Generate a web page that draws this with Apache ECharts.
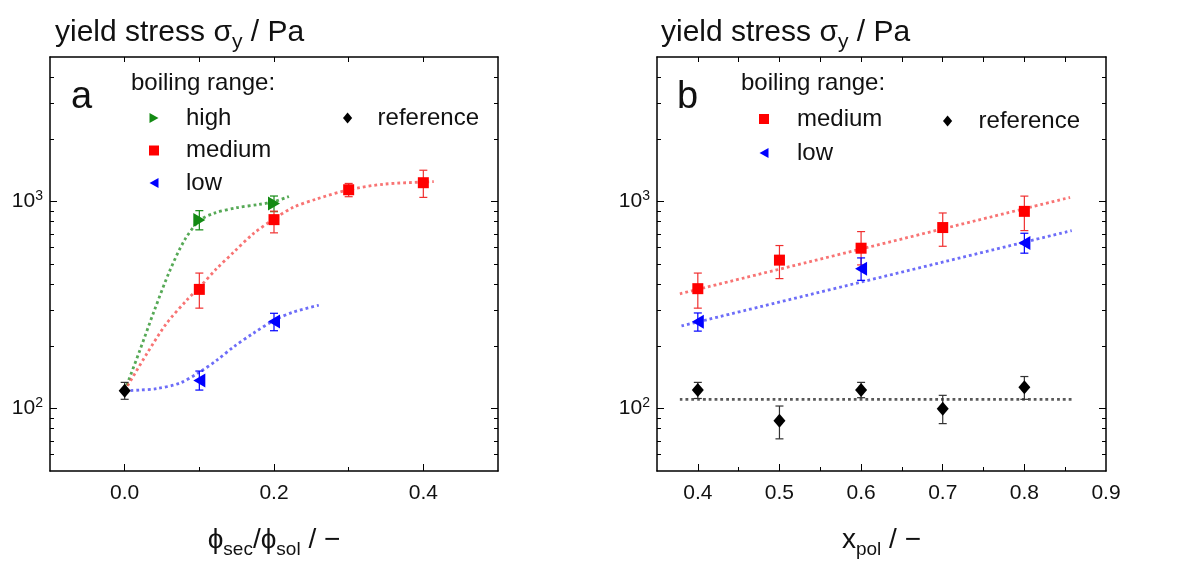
<!DOCTYPE html>
<html>
<head>
<meta charset="utf-8">
<script src="https://cdn.jsdelivr.net/npm/echarts@6/dist/echarts.min.js"></script>
<style>
  html, body { margin: 0; padding: 0; background: #fff; }
  #chart { width: 1199px; height: 562px; }
</style>
</head>
<body>
<div id="chart"></div>
<script>
// ---- panel a: yield stress vs phi_sec/phi_sol ----
const aRef = [[0.0, 122]];
const aRefErr = [[0.0, 111, 134]];
const aHigh = [[0.1, 816], [0.2, 981]];
const aHighErr = [[0.1, 731, 905], [0.2, 895, 1065]];
const aMedium = [[0.1, 377], [0.2, 819], [0.3, 1142], [0.4, 1235]];
const aMediumErr = [[0.1, 306, 452], [0.2, 707, 900], [0.3, 1057, 1225], [0.4, 1049, 1419]];
const aLow = [[0.1, 137], [0.2, 264]];
const aLowErr = [[0.1, 123, 152], [0.2, 238, 289]];
// dotted fit curves
const aHighFit = [[0, 122], [0.02, 190], [0.04, 300], [0.06, 460], [0.08, 650], [0.1, 810],
  [0.12, 880], [0.15, 935], [0.18, 970], [0.2, 1000], [0.22, 1060]];
const aMediumFit = [[0, 122], [0.03, 185], [0.056, 258], [0.083, 334], [0.1, 385], [0.123, 474],
  [0.146, 570], [0.172, 699], [0.2, 826], [0.226, 940], [0.257, 1030], [0.3, 1142],
  [0.347, 1215], [0.4, 1245], [0.414, 1250]];
const aLowFit = [[0, 122], [0.02, 123], [0.043, 125], [0.074, 133], [0.1, 150], [0.123, 171],
  [0.146, 199], [0.172, 231], [0.2, 267], [0.226, 293], [0.26, 316]];

// ---- panel b: yield stress vs x_pol ----
const bMedium = [[0.4, 380], [0.5, 522], [0.6, 596], [0.7, 750], [0.8, 898]];
const bMediumErr = [[0.4, 306, 452], [0.5, 425, 614], [0.6, 495, 717], [0.7, 609, 882], [0.8, 725, 1064]];
const bLow = [[0.4, 263], [0.6, 474], [0.8, 632]];
const bLowErr = [[0.4, 237, 290], [0.6, 417, 535], [0.8, 564, 704]];
const bRef = [[0.4, 123], [0.5, 87.5], [0.6, 123], [0.7, 100], [0.8, 127]];
const bRefErr = [[0.4, 112, 134], [0.5, 71.5, 103], [0.6, 113, 134], [0.7, 84.7, 116], [0.8, 111, 143]];
const bMediumFit = [[0.378, 359], [0.856, 1049]];
const bLowFit = [[0.38, 251], [0.858, 725]];
const bRefFit = [[0.378, 111], [0.858, 111]];

// ticks
const aXMajor = [0, 0.2, 0.4];
const aXMinor = [0.1, 0.3];
const aXTop = [0, 0.1, 0.2, 0.3, 0.4];
const bXLabels = [0.4, 0.5, 0.6, 0.7, 0.8, 0.9];
const bXMajor = [0.4, 0.5, 0.6, 0.7, 0.8];
const bXMinor = [0.45, 0.55, 0.65, 0.75, 0.85];
const bXTop = [0.4, 0.45, 0.5, 0.55, 0.6, 0.65, 0.7, 0.75, 0.8, 0.85];
const yMajor = [100, 1000];
const yMinor = [60, 70, 80, 90, 200, 300, 400, 500, 600, 700, 800, 900, 2000, 3000, 4000];

const FONT = '"Liberation Sans", Arial, sans-serif';
const RED = '#ff0000', GREEN = '#138a13', BLUE = '#0000ff', BLACK = '#000000';
const triRight = 'path://M0,0L9,5L0,10Z';
const triLeft = 'path://M9,0L0,5L9,10Z';
const square = 'path://M0,0L10,0L10,10L0,10Z';
const diamond = 'path://M5,0L10,6L5,12L0,6Z';

const myChart = echarts.init(document.getElementById('chart'));

function xAxesFor(grid, min, max, labels, major, minor, top, name) {
  const base = { type: 'value', gridIndex: grid, min: min, max: max, splitLine: { show: false } };
  return [
    Object.assign({}, base, {
      position: 'bottom',
      axisLine: { onZero: false, lineStyle: { color: '#000', width: 1.5 } },
      axisTick: { inside: true, length: 7, customValues: major, lineStyle: { color: '#000' } },
      axisLabel: {
        customValues: labels, margin: 12, fontSize: 21, color: '#111', fontFamily: FONT,
        formatter: (v) => v.toFixed(1)
      },
      name: name,
      nameLocation: 'middle',
      nameGap: 54,
      nameTextStyle: {
        color: '#111', fontFamily: FONT,
        rich: {
          m: { fontSize: 28, fontFamily: FONT, color: '#111', lineHeight: 30 },
          s: { fontSize: 19, fontFamily: FONT, color: '#111', lineHeight: 19, padding: [20, 0, 0, 0] }
        }
      }
    }),
    Object.assign({}, base, {
      position: 'bottom',
      axisLine: { show: false, onZero: false },
      axisTick: { inside: true, length: 4, customValues: minor, lineStyle: { color: '#000' } },
      axisLabel: { show: false }
    }),
    Object.assign({}, base, {
      position: 'top',
      axisLine: { onZero: false, lineStyle: { color: '#000', width: 1.5 } },
      axisTick: { inside: true, length: 5, customValues: top, lineStyle: { color: '#000' } },
      axisLabel: { show: false }
    })
  ];
}

function yAxesFor(grid) {
  const base = { type: 'log', logBase: 10, gridIndex: grid, min: 50, max: 5000, splitLine: { show: false } };
  return [
    Object.assign({}, base, {
      position: 'left',
      axisLine: { onZero: false, lineStyle: { color: '#000', width: 1.5 } },
      axisTick: { inside: true, length: 7, customValues: yMajor, lineStyle: { color: '#000' } },
      axisLabel: {
        customValues: yMajor, margin: 7, color: '#111',
        formatter: (v) => '{b|10}{s|' + Math.round(Math.log10(v)) + '}',
        rich: {
          b: { fontSize: 21, fontFamily: FONT, color: '#111' },
          s: { fontSize: 14, fontFamily: FONT, color: '#111', padding: [0, 0, 12, 0] }
        }
      }
    }),
    Object.assign({}, base, {
      position: 'left',
      axisLine: { show: false, onZero: false },
      axisTick: { inside: true, length: 4, customValues: yMinor, lineStyle: { color: '#000' } },
      axisLabel: { show: false }
    }),
    Object.assign({}, base, {
      position: 'right',
      axisLine: { onZero: false, lineStyle: { color: '#000', width: 1.5 } },
      axisTick: { inside: true, length: 7, customValues: yMajor, lineStyle: { color: '#000' } },
      axisLabel: { show: false }
    }),
    Object.assign({}, base, {
      position: 'right',
      axisLine: { show: false, onZero: false },
      axisTick: { inside: true, length: 4, customValues: yMinor, lineStyle: { color: '#000' } },
      axisLabel: { show: false }
    })
  ];
}

// error bar: vertical line with small caps
function errorBar(color) {
  return function (params, api) {
    const x = api.value(0);
    const lo = api.coord([x, api.value(1)]);
    const hi = api.coord([x, api.value(2)]);
    const w = 4;
    const style = { stroke: color, lineWidth: 1.2 };
    return {
      type: 'group',
      children: [
        { type: 'line', shape: { x1: lo[0], y1: lo[1], x2: hi[0], y2: hi[1] }, style: style },
        { type: 'line', shape: { x1: lo[0] - w, y1: lo[1], x2: lo[0] + w, y2: lo[1] }, style: style },
        { type: 'line', shape: { x1: hi[0] - w, y1: hi[1], x2: hi[0] + w, y2: hi[1] }, style: style }
      ]
    };
  };
}

function fitLine(name, data, color, xi, yi) {
  return {
    name: name, type: 'line', xAxisIndex: xi, yAxisIndex: yi, data: data,
    smooth: 0.3, showSymbol: false, symbol: 'none', silent: true, z: 1,
    lineStyle: { color: color, width: 2.8, type: [2.8, 3] }
  };
}

function errSeries(data, color, xi, yi) {
  return {
    type: 'custom', xAxisIndex: xi, yAxisIndex: yi, data: data, z: 2, silent: true,
    encode: { x: 0, y: [1, 2] },
    renderItem: errorBar(color)
  };
}

function points(name, data, color, symbol, size, xi, yi) {
  return {
    name: name, type: 'scatter', xAxisIndex: xi, yAxisIndex: yi, data: data, z: 3,
    symbol: symbol, symbolSize: size, itemStyle: { color: color, opacity: 1 }
  };
}

const rich = {
  m: { fontSize: 30, fontWeight: 'normal', fontFamily: FONT, color: '#111', lineHeight: 32 },
  s: { fontSize: 21, fontWeight: 'normal', fontFamily: FONT, color: '#111', lineHeight: 21, padding: [18, 0, 0, 0] }
};
const legendText = { fontSize: 24, fontFamily: FONT, color: '#111', lineHeight: 24 };
const plain = (size) => ({ fontSize: size, fontWeight: 'normal', fontFamily: FONT, color: '#111' });

const option = {
  animation: false,
  backgroundColor: '#fff',
  title: [
    { text: '{m|yield stress σ}{s|y}{m| / Pa}', left: 50, top: 12, textStyle: { fontWeight: 'normal', rich: rich } },
    { text: '{m|yield stress σ}{s|y}{m| / Pa}', left: 656, top: 12, textStyle: { fontWeight: 'normal', rich: rich } },
    { text: 'a', left: 66, top: 74, textStyle: plain(38) },
    { text: 'b', left: 672, top: 74, textStyle: plain(38) },
    { text: 'boiling range:', left: 126, top: 66, textStyle: plain(24) },
    { text: 'boiling range:', left: 736, top: 66, textStyle: plain(24) }
  ],
  legend: [
    {
      left: 144, top: 101, orient: 'vertical', itemWidth: 54, itemHeight: 10, itemGap: 8.5,
      textStyle: legendText, selectedMode: false,
      data: [{ name: 'high', icon: triRight }, { name: 'medium', icon: square }, { name: 'low', icon: triLeft }]
    },
    {
      left: 338, top: 101, orient: 'vertical', itemWidth: 50, itemHeight: 11,
      textStyle: legendText, selectedMode: false,
      data: [{ name: 'reference', icon: diamond }]
    },
    {
      left: 754, top: 102, orient: 'vertical', itemWidth: 56, itemHeight: 10, itemGap: 10,
      textStyle: legendText, selectedMode: false,
      data: [{ name: 'medium', icon: square }, { name: 'low', icon: triLeft }]
    },
    {
      left: 938, top: 104, orient: 'vertical', itemWidth: 52, itemHeight: 11,
      textStyle: legendText, selectedMode: false,
      data: [{ name: 'reference', icon: diamond }]
    }
  ],
  grid: [
    { left: 50, top: 57, width: 448, height: 414, outerBoundsMode: 'none' },
    { left: 657, top: 57, width: 449, height: 414, outerBoundsMode: 'none' }
  ],
  xAxis: [].concat(
    xAxesFor(0, -0.1, 0.5, aXMajor, aXMajor, aXMinor, aXTop,
      '{m|ϕ}{s|sec}{m|/ϕ}{s|sol}{m| / −}'),
    xAxesFor(1, 0.35, 0.9, bXLabels, bXMajor, bXMinor, bXTop,
      '{m|x}{s|pol}{m| / −}')
  ),
  yAxis: [].concat(yAxesFor(0), yAxesFor(1)),
  series: [
    fitLine('fit high', aHighFit, 'rgba(30,140,30,0.75)', 0, 0),
    fitLine('fit medium a', aMediumFit, 'rgba(245,70,70,0.75)', 0, 0),
    fitLine('fit low a', aLowFit, 'rgba(60,60,245,0.75)', 0, 0),
    errSeries(aHighErr, GREEN, 0, 0),
    errSeries(aMediumErr, '#f03030', 0, 0),
    errSeries(aLowErr, BLUE, 0, 0),
    errSeries(aRefErr, '#333', 0, 0),
    points('high', aHigh, GREEN, triRight, [12, 14], 0, 0),
    points('medium', aMedium, RED, square, 11, 0, 0),
    points('low', aLow, BLUE, triLeft, [12, 14], 0, 0),
    points('reference', aRef, BLACK, diamond, [12, 14], 0, 0),

    fitLine('fit medium b', bMediumFit, 'rgba(245,70,70,0.75)', 3, 4),
    fitLine('fit low b', bLowFit, 'rgba(60,60,245,0.75)', 3, 4),
    fitLine('fit ref b', bRefFit, 'rgba(60,60,60,0.85)', 3, 4),
    errSeries(bMediumErr, '#f03030', 3, 4),
    errSeries(bLowErr, BLUE, 3, 4),
    errSeries(bRefErr, '#333', 3, 4),
    points('medium', bMedium, RED, square, 11, 3, 4),
    points('low', bLow, BLUE, triLeft, [12, 14], 3, 4),
    points('reference', bRef, BLACK, diamond, [12, 14], 3, 4)
  ]
};

myChart.setOption(option);
</script>
</body>
</html>
